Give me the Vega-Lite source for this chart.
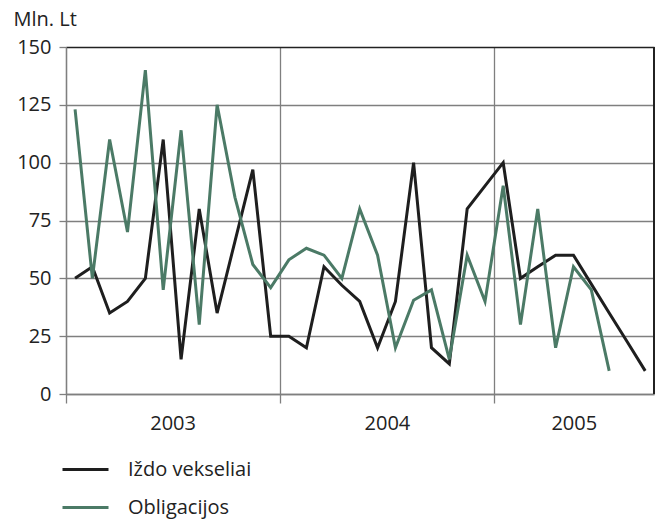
{
  "$schema": "https://vega.github.io/schema/vega-lite/v6.json",
  "autosize": "none",
  "width": 588,
  "height": 347,
  "padding": {"left": 66, "top": 47, "right": 1, "bottom": 126},
  "config": {
    "font": "Open Sans",
    "view": {"stroke": null},
    "axis": {"labelFont": "Open Sans", "titleFont": "Open Sans", "labelColor": "#222", "titleColor": "#222"}
  },
  "data": {
    "values": [
      {"date": "2003-01-15", "series": "Iždo vekseliai", "value": 50},
      {"date": "2003-02-15", "series": "Iždo vekseliai", "value": 55},
      {"date": "2003-03-15", "series": "Iždo vekseliai", "value": 35},
      {"date": "2003-04-15", "series": "Iždo vekseliai", "value": 40},
      {"date": "2003-05-15", "series": "Iždo vekseliai", "value": 50},
      {"date": "2003-06-15", "series": "Iždo vekseliai", "value": 110},
      {"date": "2003-07-15", "series": "Iždo vekseliai", "value": 15},
      {"date": "2003-08-15", "series": "Iždo vekseliai", "value": 80},
      {"date": "2003-09-15", "series": "Iždo vekseliai", "value": 35},
      {"date": "2003-10-15", "series": "Iždo vekseliai", "value": 66},
      {"date": "2003-11-15", "series": "Iždo vekseliai", "value": 97},
      {"date": "2003-12-15", "series": "Iždo vekseliai", "value": 25},
      {"date": "2004-01-15", "series": "Iždo vekseliai", "value": 25},
      {"date": "2004-02-15", "series": "Iždo vekseliai", "value": 20},
      {"date": "2004-03-15", "series": "Iždo vekseliai", "value": 55},
      {"date": "2004-04-15", "series": "Iždo vekseliai", "value": 47},
      {"date": "2004-05-15", "series": "Iždo vekseliai", "value": 40},
      {"date": "2004-06-15", "series": "Iždo vekseliai", "value": 20},
      {"date": "2004-07-15", "series": "Iždo vekseliai", "value": 40},
      {"date": "2004-08-15", "series": "Iždo vekseliai", "value": 100},
      {"date": "2004-09-15", "series": "Iždo vekseliai", "value": 20},
      {"date": "2004-10-15", "series": "Iždo vekseliai", "value": 13},
      {"date": "2004-11-15", "series": "Iždo vekseliai", "value": 80},
      {"date": "2004-12-15", "series": "Iždo vekseliai", "value": 90},
      {"date": "2005-01-15", "series": "Iždo vekseliai", "value": 100},
      {"date": "2005-02-15", "series": "Iždo vekseliai", "value": 50},
      {"date": "2005-03-15", "series": "Iždo vekseliai", "value": 55},
      {"date": "2005-04-15", "series": "Iždo vekseliai", "value": 60},
      {"date": "2005-05-15", "series": "Iždo vekseliai", "value": 60},
      {"date": "2005-06-15", "series": "Iždo vekseliai", "value": 47.5},
      {"date": "2005-07-15", "series": "Iždo vekseliai", "value": 35},
      {"date": "2005-08-15", "series": "Iždo vekseliai", "value": 22.5},
      {"date": "2005-09-15", "series": "Iždo vekseliai", "value": 10},
      {"date": "2003-01-15", "series": "Obligacijos", "value": 123},
      {"date": "2003-02-15", "series": "Obligacijos", "value": 50},
      {"date": "2003-03-15", "series": "Obligacijos", "value": 110},
      {"date": "2003-04-15", "series": "Obligacijos", "value": 70},
      {"date": "2003-05-15", "series": "Obligacijos", "value": 140},
      {"date": "2003-06-15", "series": "Obligacijos", "value": 45},
      {"date": "2003-07-15", "series": "Obligacijos", "value": 114},
      {"date": "2003-08-15", "series": "Obligacijos", "value": 30},
      {"date": "2003-09-15", "series": "Obligacijos", "value": 125},
      {"date": "2003-10-15", "series": "Obligacijos", "value": 85},
      {"date": "2003-11-15", "series": "Obligacijos", "value": 56},
      {"date": "2003-12-15", "series": "Obligacijos", "value": 46},
      {"date": "2004-01-15", "series": "Obligacijos", "value": 58},
      {"date": "2004-02-15", "series": "Obligacijos", "value": 63},
      {"date": "2004-03-15", "series": "Obligacijos", "value": 60},
      {"date": "2004-04-15", "series": "Obligacijos", "value": 50},
      {"date": "2004-05-15", "series": "Obligacijos", "value": 80},
      {"date": "2004-06-15", "series": "Obligacijos", "value": 60},
      {"date": "2004-07-15", "series": "Obligacijos", "value": 20},
      {"date": "2004-08-15", "series": "Obligacijos", "value": 40.5},
      {"date": "2004-09-15", "series": "Obligacijos", "value": 45},
      {"date": "2004-10-15", "series": "Obligacijos", "value": 15},
      {"date": "2004-11-15", "series": "Obligacijos", "value": 60},
      {"date": "2004-12-15", "series": "Obligacijos", "value": 40},
      {"date": "2005-01-15", "series": "Obligacijos", "value": 90},
      {"date": "2005-02-15", "series": "Obligacijos", "value": 30},
      {"date": "2005-03-15", "series": "Obligacijos", "value": 80},
      {"date": "2005-04-15", "series": "Obligacijos", "value": 20},
      {"date": "2005-05-15", "series": "Obligacijos", "value": 55},
      {"date": "2005-06-15", "series": "Obligacijos", "value": 45},
      {"date": "2005-07-15", "series": "Obligacijos", "value": 10}
    ]
  },
  "layer": [
    {
      "mark": {"type": "line", "strokeWidth": 3, "strokeJoin": "miter", "clip": true},
      "encoding": {
        "x": {
          "field": "date",
          "timeUnit": "yearmonth",
          "type": "temporal",
          "bandPosition": 0.5,
          "scale": {"domain": [{"year": 2003, "month": 1, "date": 1}, {"year": 2005, "month": 10, "date": 1}]},
          "axis": {
            "title": null,
            "values": [
              {"year": 2003, "month": 1, "date": 1},
              {"year": 2003, "month": 7, "date": 2},
              {"year": 2004, "month": 1, "date": 1},
              {"year": 2004, "month": 7, "date": 2},
              {"year": 2005, "month": 1, "date": 1},
              {"year": 2005, "month": 5, "date": 17}
            ],
            "labelExpr": "month(datum.value) == 0 ? '' : timeFormat(datum.value, '%Y')",
            "labelFontSize": 20,
            "labelPadding": 10,
            "labelFlush": false,
            "labelOverlap": false,
            "domain": true,
            "domainColor": "#7f7f7f",
            "domainWidth": 1.3,
            "grid": true,
            "gridColor": "#7f7f7f",
            "gridWidth": 1.3,
            "gridOpacity": {"condition": {"test": "month(datum.value) == 0", "value": 1}, "value": 0},
            "ticks": true,
            "tickSize": 9,
            "tickColor": "#7f7f7f",
            "tickWidth": 1.3,
            "tickOpacity": {"condition": {"test": "month(datum.value) == 0", "value": 1}, "value": 0}
          }
        },
        "y": {
          "field": "value",
          "type": "quantitative",
          "scale": {"domain": [0, 150], "nice": false},
          "axis": {
            "values": [0, 25, 50, 75, 100, 125, 150],
            "title": "Mln. Lt",
            "titleAngle": 0,
            "titleAlign": "left",
            "titleBaseline": "alphabetic",
            "titleX": -53,
            "titleY": -22,
            "titleFontSize": 20,
            "titleFontWeight": "normal",
            "labelFontSize": 20,
            "labelPadding": 8,
            "domain": true,
            "domainColor": "#7f7f7f",
            "domainWidth": 1.3,
            "grid": true,
            "gridColor": {"condition": {"test": "datum.value == 150", "value": "#222222"}, "value": "#7f7f7f"},
            "gridWidth": 1.3,
            "tickSize": 7,
            "tickColor": "#7f7f7f",
            "tickWidth": 1.3
          }
        },
        "color": {
          "field": "series",
          "type": "nominal",
          "scale": {"domain": ["Iždo vekseliai", "Obligacijos"], "range": ["#1e1e1e", "#4b7a66"]},
          "legend": {
            "title": null,
            "orient": "none",
            "legendX": -5,
            "legendY": 398,
            "direction": "vertical",
            "padding": 0,
            "symbolType": "stroke",
            "symbolSize": 2116,
            "symbolStrokeWidth": 3,
            "labelFontSize": 20,
            "labelFont": "Open Sans",
            "labelColor": "#222",
            "labelOffset": 18,
            "rowPadding": 3
          }
        }
      }
    },
    {
      "mark": {"type": "rule", "color": "#222222", "strokeWidth": 1.3},
      "encoding": {"x": {"datum": {"year": 2005, "month": 10, "date": 1}, "type": "temporal"}}
    }
  ]
}
